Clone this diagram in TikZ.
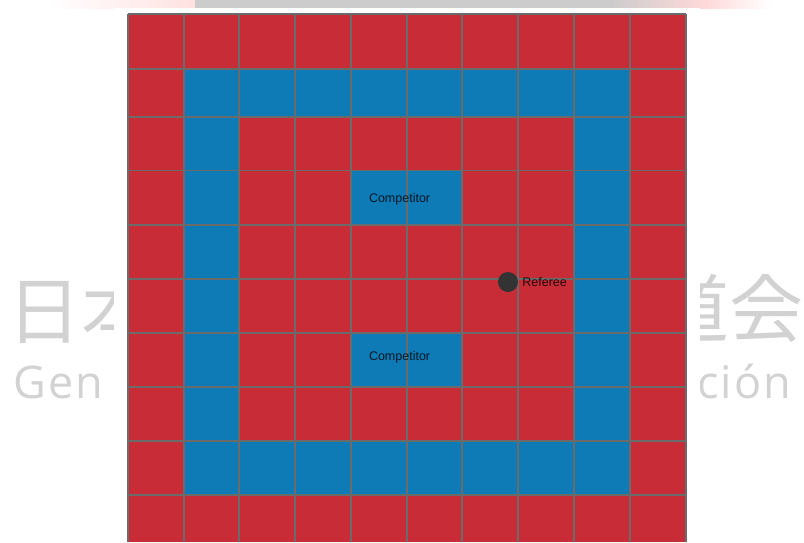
\documentclass[tikz,border=0pt]{standalone}
\usepackage{fontspec}
\setmainfont{Liberation Sans}
\newfontfamily\wmfont[LetterSpace=5]{Open Sans}
\newfontfamily\cjkfont{Noto Sans CJK JP}
\usetikzlibrary{positioning}
\definecolor{fieldred}{HTML}{C72C37}
\definecolor{fieldblue}{HTML}{0E7AB6}
\definecolor{gridgrey}{HTML}{6B6B6B}
\definecolor{dotgrey}{HTML}{333333}
\definecolor{wmgrey}{HTML}{D2D2D2}
\definecolor{bandgrey}{HTML}{CCCCCC}

\begin{document}
\begin{tikzpicture}[x=1pt,y=-1pt,
  wm/.style={text=wmgrey,inner sep=0pt},
  compbox/.style={fill=fieldblue,minimum width=111pt,minimum height=54pt,inner sep=0pt},
  tag/.style={text=black,text opacity=0.8,font=\fontsize{12.5}{15}\selectfont,inner sep=0pt},
  refdot/.style={circle,fill=dotgrey,minimum size=20pt,inner sep=0pt},
  gridline/.style={gridgrey,line width=1.3pt},
]
  \useasboundingbox (0,0) rectangle (804,542);

  % watermark behind the panel
  \node[wm,anchor=west,font=\cjkfont\fontsize{74}{74}\selectfont] (wmleft) at (7,310) {日本};
  \node[wm,anchor=east,font=\cjkfont\fontsize{74}{74}\selectfont] (wmright) at (804,308) {道会};
  \node[wm,anchor=base west,font=\wmfont\fontsize{45}{45}\selectfont] (wmgen) at (13,398) {Gen};
  \node[wm,anchor=base west,font=\wmfont\fontsize{45}{45}\selectfont] (wmcion) at (697,398) {ción};
  \shade[left color=white,right color=red!12] (50,0) rectangle (195,8);
  \fill[bandgrey] (195,0) rectangle (610,8);
  \shade[left color=bandgrey,right color=red!15] (610,0) rectangle (705,8);
  \shade[left color=red!15,right color=white] (705,0) rectangle (770,8);
  \fill[white] (114,8) rectangle (700,542);

  % field
  \fill[fieldred] (128,14) rectangle (686,542);
  \fill[fieldblue] (184,69) rectangle (630,117);
  \fill[fieldblue] (184,441) rectangle (630,495);
  \fill[fieldblue] (184,69) rectangle (239,495);
  \fill[fieldblue] (574,69) rectangle (630,495);
  \node[compbox] (comp1) at (406.5,197.5) {};
  \node[compbox] (comp2) at (406.5,360) {};

  % grid
  \foreach \x in {128,184,239,295,351,407,462,518,574,630,686}
    \draw[gridline] (\x,14) -- (\x,542);
  \foreach \y in {14,69,117,170.5,225,279,333,387,441,495}
    \draw[gridline] (128,\y) -- (686,\y);

  \node[tag,right=18pt of comp1.west,yshift=-2pt] (comp1text) {Competitor};
  \node[tag,right=18pt of comp2.west,yshift=3pt] (comp2text) {Competitor};
  \node[refdot] (ref) at (508,282) {};
  \node[tag,right=4pt of ref] (reftext) {Referee};
\end{tikzpicture}
\end{document}
